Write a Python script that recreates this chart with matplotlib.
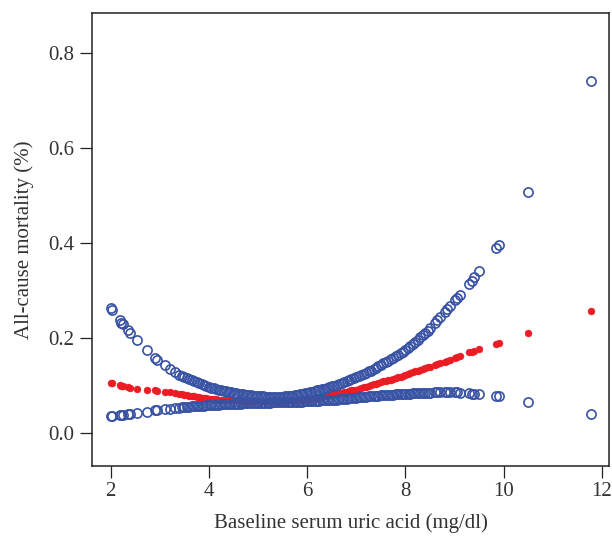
import matplotlib
matplotlib.use("Agg")
import matplotlib.pyplot as plt

plt.rcParams['font.family'] = ['Liberation Serif', 'DejaVu Serif']

# Baseline serum uric acid values (mg/dl)
uric_acid = [
    2.00, 2.02, 2.18, 2.22, 2.25, 2.35, 2.40, 2.53, 2.73, 2.90, 2.95, 3.10, 3.20, 3.30, 3.40, 3.45,
    3.50, 3.55, 3.60, 3.65, 3.70, 3.75, 3.80, 3.85, 3.90, 3.95,
    4.00, 4.05, 4.10, 4.15, 4.20, 4.25, 4.30, 4.35, 4.40, 4.45,
    4.50, 4.55, 4.60, 4.65, 4.70, 4.75, 4.80, 4.85, 4.90, 4.95,
    5.00, 5.05, 5.10, 5.15, 5.20, 5.25, 5.30, 5.35, 5.40, 5.45,
    5.50, 5.55, 5.60, 5.65, 5.70, 5.75, 5.80, 5.85, 5.90, 5.95,
    6.00, 6.05, 6.10, 6.15, 6.20, 6.25, 6.30, 6.35, 6.40, 6.45,
    6.50, 6.55, 6.60, 6.65, 6.70, 6.75, 6.80, 6.85, 6.90, 6.95,
    7.00, 7.05, 7.10, 7.15, 7.20, 7.25, 7.30, 7.35, 7.40, 7.45,
    7.50, 7.55, 7.60, 7.65, 7.70, 7.75, 7.80, 7.85, 7.90, 7.95,
    8.00, 8.05, 8.10, 8.15, 8.20, 8.25, 8.30, 8.35, 8.40, 8.45,
    8.50, 8.60, 8.65, 8.70, 8.80, 8.85, 8.90, 9.00, 9.05, 9.10,
    9.30, 9.35, 9.40, 9.50, 9.85, 9.90, 10.50, 11.77,
]

# Fitted all-cause mortality
mortality_fit = [
    .104, .104, .100, .099, .098, .096, .095, .093, .091, .089, .088, .086, .085, .083, .082, .081,
    .080, .079, .078, .077, .077, .076, .075, .074, .074, .073,
    .072, .072, .071, .071, .070, .070, .069, .069, .069, .068,
    .068, .068, .068, .067, .067, .067, .067, .067, .067, .067,
    .067, .067, .067, .067, .067, .067, .067, .067, .067, .067,
    .067, .068, .068, .068, .069, .069, .069, .070, .070, .071,
    .071, .072, .073, .073, .074, .075, .076, .077, .078, .079,
    .080, .081, .082, .083, .084, .085, .086, .087, .089, .090,
    .091, .093, .094, .096, .097, .099, .100, .102, .103, .105,
    .106, .108, .109, .111, .112, .114, .115, .117, .118, .120,
    .121, .123, .125, .127, .129, .131, .133, .134, .136, .138,
    .139, .143, .145, .147, .150, .152, .154, .158, .160, .162,
    .169, .171, .173, .177, .187, .189, .211, .256,
]

# Upper 95% confidence limit
mortality_upper = [
    .262, .258, .238, .232, .228, .216, .211, .195, .174, .157, .153, .143, .135, .128, .122, .120,
    .117, .115, .113, .111, .108, .106, .104, .102, .100, .099,
    .097, .095, .094, .092, .091, .090, .088, .087, .086, .085,
    .084, .083, .082, .081, .081, .080, .079, .079, .078, .078,
    .077, .077, .077, .076, .076, .076, .076, .076, .076, .076,
    .076, .077, .077, .078, .078, .079, .080, .081, .082, .083,
    .084, .085, .086, .088, .089, .090, .092, .093, .095, .096,
    .098, .099, .101, .103, .105, .107, .109, .111, .113, .115,
    .117, .119, .121, .124, .126, .129, .131, .134, .137, .140,
    .143, .146, .149, .152, .155, .158, .161, .164, .168, .171,
    .175, .179, .183, .187, .192, .196, .201, .205, .210, .215,
    .221, .232, .238, .243, .254, .261, .267, .280, .284, .290,
    .314, .320, .327, .340, .390, .396, .506, .741,
]

# Lower 95% confidence limit
mortality_lower = [
    .035, .035, .037, .037, .038, .039, .040, .041, .044, .047, .048, .050, .051, .052, .053, .054,
    .054, .055, .055, .056, .056, .056, .057, .057, .057, .058,
    .058, .058, .059, .059, .059, .060, .060, .060, .060, .061,
    .061, .061, .061, .061, .062, .062, .062, .062, .062, .063,
    .063, .063, .063, .063, .063, .063, .064, .064, .064, .064,
    .064, .064, .064, .064, .065, .065, .065, .065, .065, .066,
    .066, .066, .066, .067, .067, .067, .068, .068, .068, .069,
    .069, .070, .070, .071, .071, .072, .072, .073, .073, .074,
    .074, .075, .075, .076, .076, .077, .077, .077, .078, .078,
    .079, .079, .079, .080, .080, .080, .081, .081, .081, .082,
    .082, .082, .082, .083, .083, .083, .083, .084, .084, .084,
    .084, .085, .085, .085, .085, .085, .085, .085, .085, .084,
    .083, .082, .082, .081, .078, .077, .065, .039,
]

x_ticks = [2, 4, 6, 8, 10, 12]
y_ticks = [0.0, 0.2, 0.4, 0.6, 0.8]
y_tick_labels = ["0.0", "0.2", "0.4", "0.6", "0.8"]

BLUE = "#3852A4"
RED = "#EC1C24"

fig = plt.figure(figsize=(6.12, 5.37), dpi=100)
ax = fig.add_axes([0.1498, 0.1322, 0.8458, 0.8430])

ax.plot(uric_acid, mortality_fit, linestyle="none", marker="o", markersize=5.0,
        markerfacecolor=RED, markeredgecolor=RED, markeredgewidth=0.3)
ax.plot(uric_acid, mortality_upper, linestyle="none", marker="o", markersize=6.6,
        markerfacecolor="none", markeredgecolor=BLUE, markeredgewidth=1.2)
ax.plot(uric_acid, mortality_lower, linestyle="none", marker="o", markersize=6.6,
        markerfacecolor="none", markeredgecolor=BLUE, markeredgewidth=1.2)

ax.set_xlim(1.613, 12.149)
ax.set_ylim(-0.070, 0.883)
ax.set_xticks(x_ticks)
ax.set_yticks(y_ticks)
ax.set_yticklabels(y_tick_labels)

for s in ax.spines.values():
    s.set_linewidth(1.1)
    s.set_color("#222222")
ax.tick_params(direction="out", length=8.5, width=0.9, colors="#222222",
               labelsize=15, labelcolor="#333333")
ax.tick_params(axis="y", pad=4)
ax.tick_params(axis="x", pad=3)

ax.set_xlabel("Baseline serum uric acid (mg/dl)", fontsize=15, color="#333333", labelpad=9)
ax.set_ylabel("All-cause mortality (%)", fontsize=15, color="#333333", labelpad=10)

fig.savefig("out.png", dpi=100)
